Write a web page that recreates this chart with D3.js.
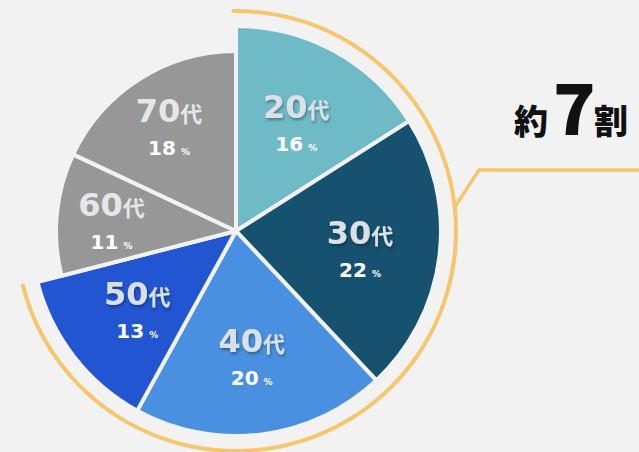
<!DOCTYPE html>
<html>
<head>
<meta charset="utf-8">
<script src="https://cdn.jsdelivr.net/npm/d3@7"></script>
<style>
  html, body { margin: 0; padding: 0; background: #f2f2f2; }
  svg { display: block; font-family: "DejaVu Sans", "Noto Sans CJK JP", sans-serif; }
</style>
</head>
<body>
<div id="chart"></div>
<script>
var ages = ["20", "30", "40", "50", "60", "70"];
var shares = [16, 22, 20, 13, 11, 18];
var highlighted = [true, true, true, true, false, false];
var sliceColors = ["#6fbac7", "#165170", "#4a90e0", "#2155d1", "#979797", "#979797"];
var calloutText = ["約", "7", "割"];

var w = 639,
    h = 452,
    cx = 236,
    cy = 231,
    rBig = 205,
    rSmall = 180,
    rLabel = 125,
    rRing = 220;

var cjk = "'Noto Sans CJK JP', sans-serif";

var data = ages.map((a, i) => ({age: a, share: shares[i], hi: highlighted[i], color: sliceColors[i]}));

var svg = d3.select("#chart").append("svg")
      .attr("width", w)
      .attr("height", h);

svg.append("rect").attr("width", w).attr("height", h).attr("fill", "#f2f2f2");

var defs = svg.append("defs");
var shadow = defs.append("filter").attr("id", "shadow")
      .attr("x", "-20%").attr("y", "-20%").attr("width", "140%").attr("height", "140%");
shadow.append("feDropShadow")
  .attr("dx", 1).attr("dy", 2).attr("stdDeviation", 1.5)
  .attr("flood-color", "#000").attr("flood-opacity", 0.35);

var pie = d3.pie()
      .sort(null)
      .value((d) => d.share);

var arcs = pie(data);

var g = svg.append("g")
      .attr("transform", "translate(" + cx + "," + cy + ")");

var arc = d3.arc()
      .innerRadius(0)
      .outerRadius((d) => d.data.hi ? rBig : rSmall);

g.append("g")
  .selectAll("path")
  .data(arcs)
  .enter().append("path")
  .attr("d", arc)
  .attr("fill", (d) => d.data.color)
  .attr("stroke", "#f2f2f2")
  .attr("stroke-width", 4)
  .attr("stroke-linejoin", "round");

// ring around the highlighted ages
var hiArcs = arcs.filter((d) => d.data.hi);
var ring = d3.arc()
      .innerRadius(rRing - 2)
      .outerRadius(rRing + 2)
      .cornerRadius(2);

g.append("path")
  .attr("d", ring({startAngle: hiArcs[0].startAngle - 0.02, endAngle: hiArcs[hiArcs.length - 1].endAngle + 0.01}))
  .attr("fill", "#f6c66f");

// leader line to the callout
var la = 83.8 * Math.PI / 180;
var p0 = [cx + rRing * Math.sin(la), cy - rRing * Math.cos(la)];
svg.append("path")
  .attr("d", d3.line()([p0, [479, 170], [w + 2, 170]]))
  .attr("fill", "none")
  .attr("stroke", "#f6c66f")
  .attr("stroke-width", 3.5);

// callout "約7割"
var callout = svg.append("g")
      .attr("fill", "#111")
      .attr("font-family", cjk)
      .attr("font-weight", 900);
callout.append("text").attr("x", 514).attr("y", 134).attr("font-size", 34).text(calloutText[0]);
callout.append("text").attr("x", 553).attr("y", 135).attr("font-size", 70).text(calloutText[1]);
callout.append("text").attr("x", 594).attr("y", 134).attr("font-size", 34).text(calloutText[2]);

// slice labels
var labelArc = d3.arc().innerRadius(rLabel).outerRadius(rLabel);

var labels = g.append("g")
      .selectAll("g")
      .data(arcs)
      .enter().append("g")
      .attr("transform", (d) => "translate(" + labelArc.centroid(d) + ")");

var title = labels.append("text")
      .attr("text-anchor", "middle")
      .attr("y", -3)
      .attr("font-weight", 700)
      .attr("fill", (d) => d.data.hi ? "#d9e0e6" : "#e6e6e6")
      .attr("filter", (d) => d.data.hi ? "url(#shadow)" : null);
title.append("tspan").attr("font-size", 32).text((d) => d.data.age);
title.append("tspan").attr("font-size", 22).attr("font-family", cjk).text("代");

var pct = labels.append("text")
      .attr("text-anchor", "middle")
      .attr("y", 30)
      .attr("font-weight", 700)
      .attr("fill", "#fff");
pct.append("tspan").attr("font-size", 20).text((d) => d.data.share);
pct.append("tspan").attr("font-size", 9).attr("dx", 5).text("%");
</script>
</body>
</html>
